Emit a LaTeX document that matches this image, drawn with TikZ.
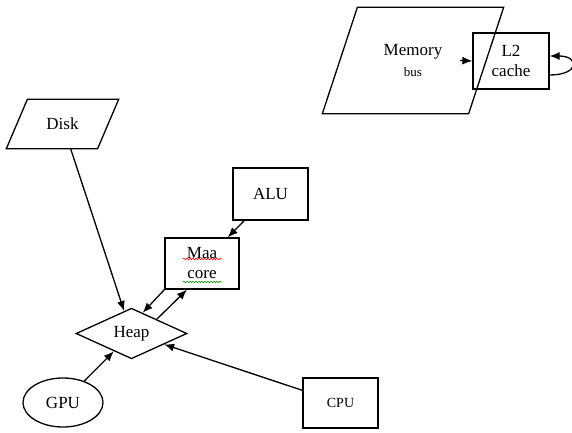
\documentclass[tikz,border=0pt]{standalone}
\usepackage{fontspec}
\setmainfont{Liberation Serif}
\usetikzlibrary{shapes,arrows.meta,calc,decorations.pathmorphing}

\begin{document}
\begin{tikzpicture}[x=1pt,y=-1pt,->,>={Latex[length=10pt,width=8pt]},line width=1.3pt,
                    every node/.style={font=\fontsize{17}{20}\selectfont,align=center,inner sep=0pt},
                    box/.style={draw,rectangle},
                    io/.style={rectangle}]
  \useasboundingbox (0,0) rectangle (572,433);

  \node[io,minimum width=180pt,minimum height=105pt] (mem)  at (413,60.5)
        {Memory\\[1pt]{\fontsize{13}{15}\selectfont bus}};
  \node[box,minimum width=76pt,minimum height=56pt]  (l2)   at (511,61)    {L2\\cache};
  \node[io,minimum width=111pt,minimum height=48pt]  (disk) at (62.5,124)   {Disk};
  \node[box,minimum width=75pt,minimum height=52pt]  (alu)  at (270.5,194)  {ALU};
  \node[box,minimum width=74pt,minimum height=51pt]  (maa)  at (202,263.5)  {Maa\\core};
  \node[draw,diamond,minimum width=111pt,minimum height=49pt] (heap) at (131.5,333.5) {Heap};
  \node[draw,ellipse,minimum width=80pt,minimum height=49pt]  (gpu)  at (63,402.5)   {GPU};
  \node[box,minimum width=75pt,minimum height=50pt,
        font=\fontsize{14}{16}\selectfont]         (cpu)  at (340.5,403)  {CPU};

  % parallelograms
  \draw[-] ([xshift=35pt]mem.north west) -- (mem.north east)
        -- ([xshift=-35pt]mem.south east) -- (mem.south west) -- cycle;
  \draw[-] ([xshift=21pt]disk.north west) -- (disk.north east)
        -- ([xshift=-21pt]disk.south east) -- (disk.south west) -- cycle;

  \path (disk) edge (heap)
        (alu)  edge (maa)
        (gpu)  edge (heap)
        (cpu)  edge (heap);
  \draw (maa.south west) -- ($(heap.north)!0.2!(heap.east)$);
  \draw ($(heap.north)!0.45!(heap.east)$) -- ($(maa.south west)!0.3!(maa.south east)$);
  \draw ([xshift=47pt]mem.center) -- (l2.west);
  \draw ([yshift=-14pt]l2.east) .. controls +(30,0) and +(30,0) .. ([yshift=5pt]l2.east);

  % spell-check marks
  \draw[-,red,line width=0.6pt,decorate,decoration={snake,amplitude=0.8pt,segment length=3pt}]
    ($(maa.center)+(-19,-4.5)$) -- ($(maa.center)+(20,-4.5)$);
  \draw[-,green!60!black,line width=0.6pt,decorate,decoration={snake,amplitude=0.8pt,segment length=3pt}]
    ($(maa.center)+(-19,18.5)$) -- ($(maa.center)+(20,18.5)$);
\end{tikzpicture}
\end{document}
